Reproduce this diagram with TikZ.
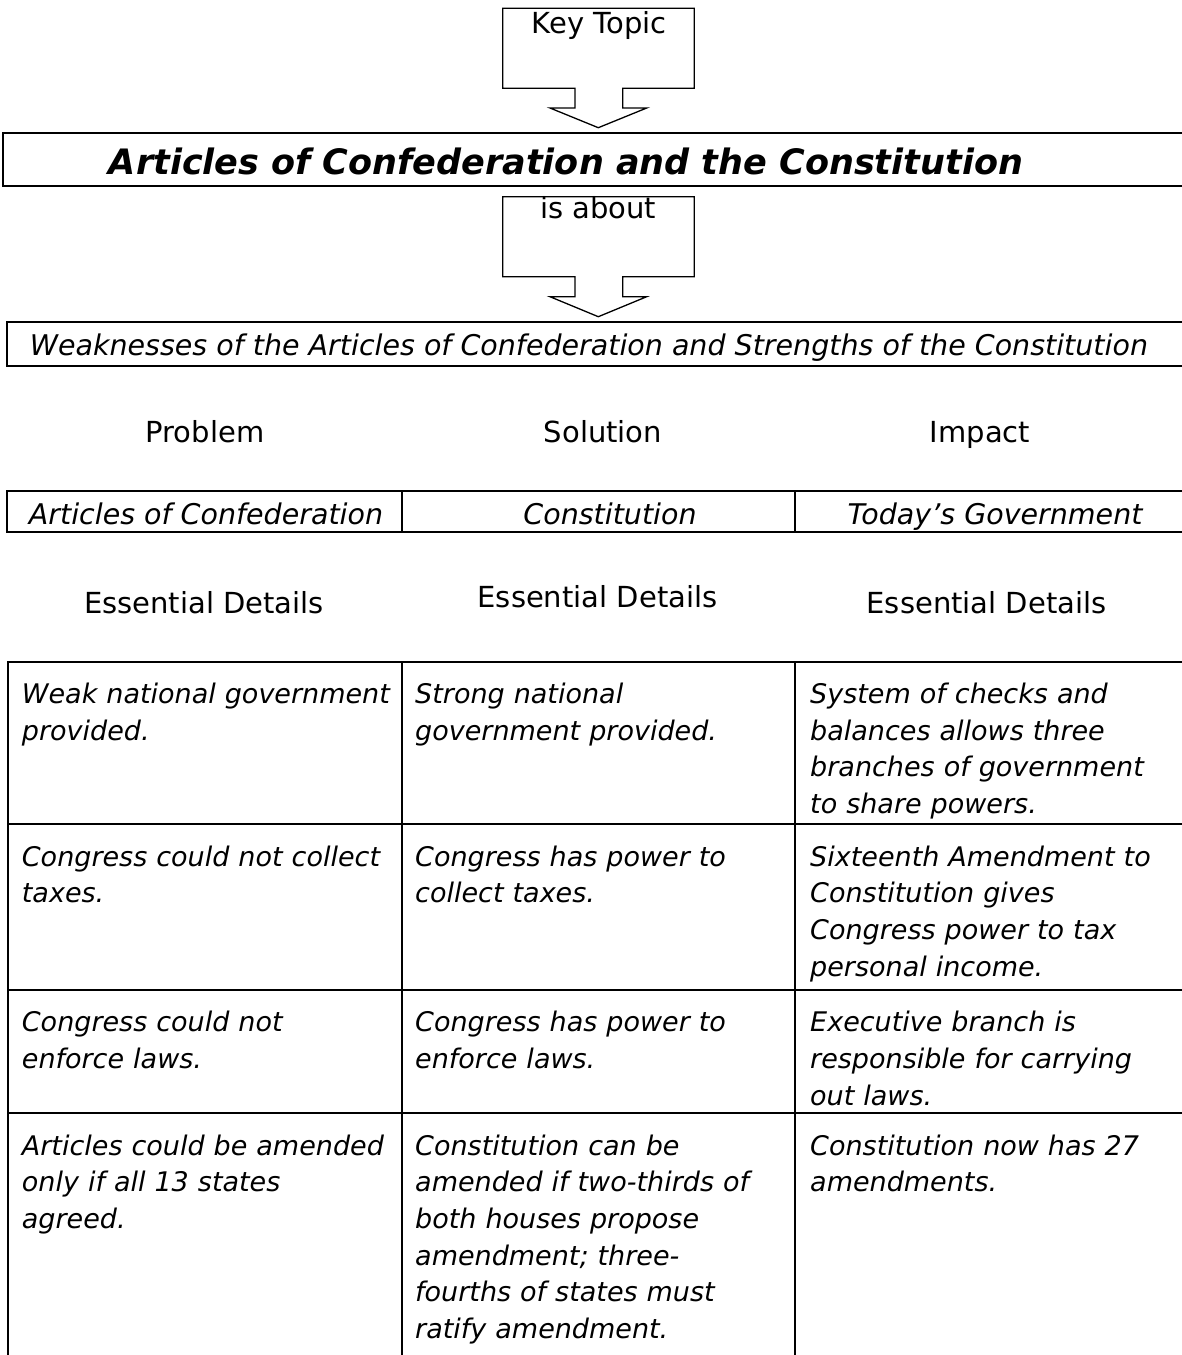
\documentclass[tikz,border=0pt]{standalone}
\usepackage{fontspec}
\setmainfont{DejaVu Sans}[BoldFont={DejaVu Sans Bold},ItalicFont={DejaVu Sans Oblique},BoldItalicFont={DejaVu Sans Bold Oblique}]
\begin{document}
\begin{tikzpicture}[x=1pt,y=-1pt,
  blockarrow/.style={draw, line width=1.3pt, fill=white, line join=miter},
  bar/.style={draw, line width=2.3pt},
  gridline/.style={line width=2pt},
  plain/.style={anchor=base, inner sep=0, font=\fontsize{29}{35}\selectfont},
  head/.style={anchor=base, inner sep=0, font=\itshape\fontsize{28.5}{34}\selectfont},
  cell/.style={anchor=base west, inner sep=0, text width=380pt, align=left, font=\itshape\fontsize{27}{36.7}\selectfont}]
\useasboundingbox (0,0) rectangle (1182,1355);

% key topic arrow
\draw[blockarrow] (502.7,8.3) -- (694.3,8.3) -- (694.3,88.3) -- (622.7,88.3) -- (622.7,108) -- (646.7,108) -- (598.3,127.7) -- (550,108) -- (575,108) -- (575,88.3) -- (502.7,88.3) -- cycle;
\node[plain] (key) at (599,33.3) {Key Topic};

% title bar
\draw[bar] (3.3,132.7) rectangle (1192,185.7);
\node[anchor=base, inner sep=0, font=\bfseries\itshape\fontsize{35}{40}\selectfont] (title) at (566,174) {Articles of Confederation and the Constitution};

% is about arrow
\draw[blockarrow] (502.7,196.7) -- (694.3,196.7) -- (694.3,276.7) -- (622.7,276.7) -- (622.7,296.7) -- (646.7,296.7) -- (598.3,316.7) -- (550,296.7) -- (575,296.7) -- (575,276.7) -- (502.7,276.7) -- cycle;
\node[plain] (about) at (598.3,218.3) {is about};

% weaknesses bar
\draw[bar] (7.3,321.7) rectangle (1192,366);
\node[head] (weak) at (589,355) {Weaknesses of the Articles of Confederation and Strengths of the Constitution};

% column headers
\node[plain] (problem) at (205,442) {Problem};
\node[plain] (solution) at (603,442) {Solution};
\node[plain] (impact) at (980,442) {Impact};

% second table
\draw[bar] (7.3,491) rectangle (1192,532.3);
\draw[gridline] (402,491) -- (402,532.3);
\draw[gridline] (795,491) -- (795,532.3);
\node[head] (aoc) at (206,524) {Articles of Confederation};
\node[head] (con) at (610,524) {Constitution};
\node[head] (today) at (995,524) {Today’s Government};

% essential details
\node[plain] (ed1) at (204,613) {Essential Details};
\node[plain] (ed2) at (597.5,607) {Essential Details};
\node[plain] (ed3) at (986.5,613) {Essential Details};

% main table
\draw[gridline] (8.3,1360) -- (8.3,661.7) -- (1192,661.7);
\draw[gridline] (8.3,824.3) -- (1192,824.3);
\draw[gridline] (8.3,990) -- (1192,990);
\draw[gridline] (8.3,1113.3) -- (1192,1113.3);
\draw[gridline] (402,661.7) -- (402,1360);
\draw[gridline] (795,661.7) -- (795,1360);

\node[cell] (r1a) at (21.7,703.4) {Weak national government\\provided.};
\node[cell] (r1b) at (415,703.4) {Strong national\\government provided.};
\node[cell] (r1c) at (810,703.4) {System of checks and\\balances allows three\\branches of government\\to share powers.};

\node[cell] (r2a) at (21.7,866) {Congress could not collect\\taxes.};
\node[cell] (r2b) at (415,866) {Congress has power to\\collect taxes.};
\node[cell] (r2c) at (810,866) {Sixteenth Amendment to\\Constitution gives\\Congress power to tax\\personal income.};

\node[cell] (r3a) at (21.7,1031.7) {Congress could not\\enforce laws.};
\node[cell] (r3b) at (415,1031.7) {Congress has power to\\enforce laws.};
\node[cell] (r3c) at (810,1031.7) {Executive branch is\\responsible for carrying\\out laws.};

\node[cell] (r4a) at (21.7,1155) {Articles could be amended\\only if all 13 states\\agreed.};
\node[cell] (r4b) at (415,1155) {Constitution can be\\amended if two-thirds of\\both houses propose\\amendment; three-\\fourths of states must\\ratify amendment.};
\node[cell] (r4c) at (810,1155) {Constitution now has 27\\amendments.};
\end{tikzpicture}
\end{document}
